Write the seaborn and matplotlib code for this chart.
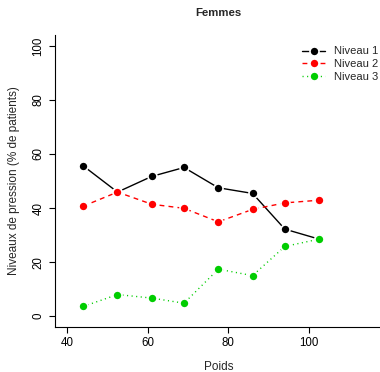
import matplotlib
matplotlib.use("Agg")
import matplotlib.pyplot as plt
import seaborn as sns
import pandas as pd

poids = [44, 52.5, 61, 69, 77.5, 86, 94, 102.5]
niveau1 = [55.6, 45.9, 51.7, 55.0, 47.5, 45.4, 32.2, 28.5]
niveau2 = [40.7, 45.9, 41.4, 39.9, 34.9, 39.5, 41.9, 42.9]
niveau3 = [3.6, 8.0, 6.7, 4.8, 17.4, 15.0, 25.8, 28.5]
series_names = ["Niveau 1", "Niveau 2", "Niveau 3"]
x_ticks = [40, 60, 80, 100]
y_ticks = [0, 20, 40, 60, 80, 100]

sns.set_theme(style="white")
plt.rcParams['font.family'] = ['Liberation Sans', 'DejaVu Sans']

fig = plt.figure(figsize=(3.8, 3.72), dpi=100)
ax = fig.add_axes([55/380, 1-327/372, (381.6-55)/380, (327-35)/372])

styles = [
    dict(color="black", dashes=None),
    dict(color="#FF0000", dashes=(3.5, 3)),
    dict(color="#00CD00", dashes=(0.8, 2.5)),
]
for name, vals, st in zip(series_names, [niveau1, niveau2, niveau3], styles):
    df = pd.DataFrame({"Poids": poids, "val": vals})
    kw = dict(color=st["color"], linewidth=1.0, marker="o", markersize=6.5,
              markeredgecolor="white", markeredgewidth=1.2, label=name)
    if st["dashes"] is not None:
        kw["dashes"] = st["dashes"]
    sns.lineplot(data=df, x="Poids", y="val", ax=ax, **kw)

ax.set_xlim(37, 118)
ax.set_ylim(-4, 104)
ax.set_xticks(x_ticks)
ax.set_yticks(y_ticks)
for lab in ax.get_yticklabels():
    lab.set_rotation(90)
    lab.set_va("center")
ax.tick_params(axis="both", direction="out", length=4.5, width=0.8,
               labelsize=8.3, colors="black", pad=3)
ax.tick_params(axis="both", which="both", bottom=True, left=True)
for s in ["top", "right"]:
    ax.spines[s].set_visible(False)
for s in ["left", "bottom"]:
    ax.spines[s].set_color("black")
    ax.spines[s].set_linewidth(0.8)
ax.set_xlabel("Poids", fontsize=8.5, labelpad=8)
ax.set_ylabel("Niveaux de pression (% de patients)", fontsize=8.5, labelpad=9)
fig.text(218/380, 1-13/372, "Femmes", ha="center", va="center",
         fontsize=8.2, fontweight="bold")

leg = ax.legend(loc="upper left", bbox_to_anchor=((298-55)/326.6, 1-(42-35)/292),
                frameon=False, fontsize=8, handlelength=2.0, handletextpad=0.8,
                labelspacing=0.25, borderaxespad=0)

fig.savefig("out.png", dpi=100)
